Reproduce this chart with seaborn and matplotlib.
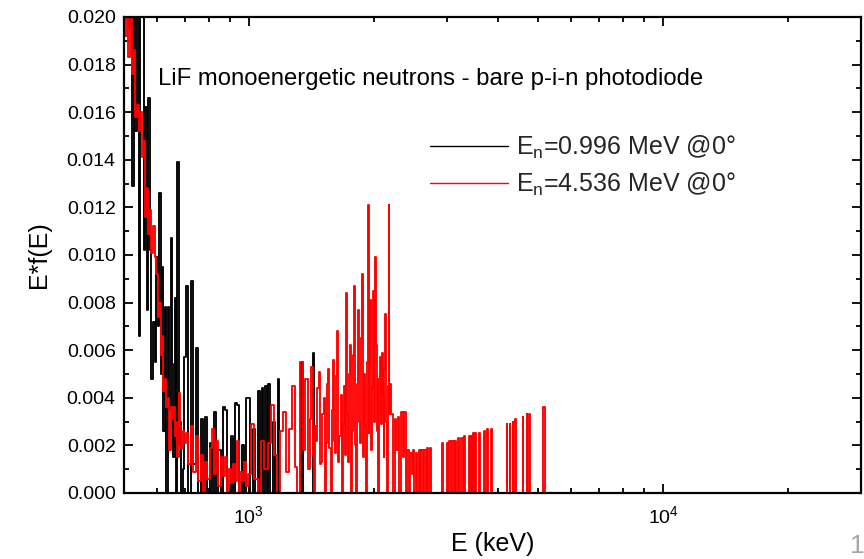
import matplotlib
matplotlib.use("Agg")
import matplotlib.pyplot as plt
import pandas as pd
import seaborn as sns
from matplotlib.ticker import LogLocator, NullFormatter, AutoMinorLocator

# ---------------- data (E in keV, E*f(E)) ----------------
label_black = r"E$_\mathregular{n}$=0.996 MeV @0°"
label_red = r"E$_\mathregular{n}$=4.536 MeV @0°"
annotation = "LiF monoenergetic neutrons - bare p-i-n photodiode"

black_E_a = [500, 505, 510, 515, 520, 525, 530, 535, 540, 545, 550, 555, 560, 565, 570, 575, 580, 585, 590, 595,
             600, 605, 610, 615, 620, 625, 630, 635, 640, 645, 650, 655, 660, 665, 670, 675, 680, 685, 690, 695]
black_y_a = [0.0240, 0.0205, 0.0230, 0.0195, 0.0250, 0.0129, 0.0230, 0.0152, 0.0240, 0.0066,
             0.0215, 0.0250, 0.0102, 0.0162, 0.0077, 0.0166, 0.0102, 0.0048, 0.0072, 0.0055,
             0.0099, 0.0070, 0.0126, 0.0050, 0.0095, 0.0026, 0.0078, 0.0000, 0.0078, 0.0035,
             0.0107, 0.0054, 0.0015, 0.0082, 0.0000, 0.0139, 0.0020, 0.0030, 0.0000, 0.0010]
black_E_b = [700, 710, 720, 730, 740, 750, 760, 770, 780, 790, 800, 810, 820, 830, 840, 850, 860, 870, 880, 890,
             900, 910, 920, 930, 940, 950, 960, 970, 980, 990, 1000, 1010, 1020, 1030, 1040, 1050, 1060, 1070,
             1080, 1090, 1100, 1110, 1120, 1130, 1140, 1150, 1160, 1170, 1180, 1190]
black_y_b = [0.0057, 0.0087, 0.0000, 0.0089, 0.0012, 0.0061, 0.0000, 0.0031, 0.0000, 0.0032,
             0.0000, 0.0021, 0.0000, 0.0034, 0.0000, 0.0018, 0.0000, 0.0036, 0.0035, 0.0000,
             0.0000, 0.0024, 0.0000, 0.0038, 0.0037, 0.0000, 0.0000, 0.0020, 0.0000, 0.0040,
             0.0040, 0.0000, 0.0000, 0.0027, 0.0000, 0.0000, 0.0043, 0.0000, 0.0044, 0.0000,
             0.0045, 0.0000, 0.0046, 0.0000, 0.0000, 0.0030, 0.0000, 0.0000, 0.0048, 0.0000]
black_E_c = [1330, 1340, 1350, 1360, 1420, 1430, 1440, 30000]
black_y_c = [0.0000, 0.0055, 0.0055, 0.0000, 0.0000, 0.0059, 0.0000, 0.0000]

red_E_a = [500, 505, 510, 515, 520, 525, 530, 535, 540, 545, 550, 555, 560, 565, 570, 575, 580, 585, 590, 595,
           600, 605, 610, 615, 620, 625, 630, 635, 640, 645, 650, 655, 660, 665, 670, 675, 680, 685, 690, 695]
red_y_a = [0.0215, 0.0192, 0.0205, 0.0183, 0.0199, 0.0176, 0.0186, 0.0158, 0.0163, 0.0152,
           0.0160, 0.0141, 0.0148, 0.0116, 0.0128, 0.0109, 0.0119, 0.0101, 0.0112, 0.0099,
           0.0092, 0.0074, 0.0080, 0.0058, 0.0066, 0.0043, 0.0048, 0.0036, 0.0040, 0.0018,
           0.0036, 0.0031, 0.0036, 0.0024, 0.0030, 0.0015, 0.0042, 0.0028, 0.0019, 0.0026]
red_E_b = [700, 710, 720, 730, 740, 750, 760, 770, 780, 790, 800, 810, 820, 830, 840, 850, 860, 870, 880, 890,
           900, 910, 920, 930, 940, 950, 960, 970, 980, 990]
red_y_b = [0.0021, 0.0025, 0.0012, 0.0028, 0.0009, 0.0024, 0.0005, 0.0016, 0.0000, 0.0013,
           0.0006, 0.0019, 0.0027, 0.0008, 0.0022, 0.0003, 0.0015, 0.0007, 0.0015, 0.0000,
           0.0010, 0.0004, 0.0012, 0.0005, 0.0022, 0.0000, 0.0009, 0.0005, 0.0013, 0.0003]
red_E_c = [1000, 1020, 1040, 1060, 1080, 1100, 1120, 1140, 1160, 1180,
           1200, 1220, 1240, 1260, 1280, 1300, 1320, 1340, 1360, 1380]
red_y_c = [0.0008, 0.0029, 0.0006, 0.0000, 0.0022, 0.0010, 0.0021, 0.0037, 0.0016, 0.0000,
           0.0026, 0.0034, 0.0009, 0.0027, 0.0045, 0.0011, 0.0000, 0.0055, 0.0018, 0.0048]
red_E_f = [1400, 1410, 1420, 1430, 1440, 1450, 1460, 1470, 1480, 1490,
           1500, 1510, 1520, 1530, 1540, 1550, 1560, 1570, 1580, 1590,
           1600, 1610, 1620, 1630, 1640, 1650, 1660, 1670, 1680, 1690,
           1700, 1710, 1720, 1730, 1740, 1750, 1760, 1770, 1780, 1790,
           1800, 1810, 1820, 1830, 1840, 1850, 1860, 1870, 1880, 1890,
           1900, 1910, 1920, 1930, 1940, 1950, 1960, 1970, 1980, 1990,
           2000, 2010, 2020, 2030, 2040, 2050, 2060, 2070, 2080, 2090,
           2100, 2110, 2120, 2130, 2140, 2150, 2160, 2170, 2180, 2190,
           2200]
red_y_f = [0.0010, 0.0031, 0.0053, 0.0016, 0.0000, 0.0028, 0.0022, 0.0044, 0.0051, 0.0012,
           0.0013, 0.0033, 0.0040, 0.0000, 0.0021, 0.0046, 0.0052, 0.0019, 0.0000, 0.0035,
           0.0056, 0.0022, 0.0017, 0.0049, 0.0068, 0.0013, 0.0024, 0.0041, 0.0000, 0.0029,
           0.0045, 0.0016, 0.0084, 0.0033, 0.0013, 0.0050, 0.0062, 0.0000, 0.0026, 0.0058,
           0.0087, 0.0020, 0.0000, 0.0046, 0.0077, 0.0030, 0.0021, 0.0065, 0.0092, 0.0015,
           0.0050, 0.0028, 0.0000, 0.0055, 0.0121, 0.0025, 0.0054, 0.0081, 0.0018, 0.0044,
           0.0085, 0.0030, 0.0099, 0.0062, 0.0026, 0.0048, 0.0000, 0.0033, 0.0057, 0.0029,
           0.0059, 0.0041, 0.0015, 0.0052, 0.0075, 0.0030, 0.0000, 0.0045, 0.0121, 0.0033,
           0.0046]
red_E_d = [2220, 2240, 2260, 2280, 2300, 2320, 2340, 2360, 2380, 2400, 2420, 2440, 2460, 2480,
           2500, 2520, 2540, 2560, 2580, 2600, 2620, 2640, 2660, 2680, 2700, 2720, 2740, 2760]
red_y_d = [0.0033, 0.0000, 0.0031, 0.0018, 0.0032, 0.0000, 0.0034, 0.0015, 0.0034, 0.0000,
           0.0018, 0.0000, 0.0017, 0.0008, 0.0018, 0.0000, 0.0017, 0.0000, 0.0018, 0.0000,
           0.0018, 0.0000, 0.0018, 0.0000, 0.0019, 0.0000, 0.0019, 0.0000]
red_E_e = [2920, 2940, 2960, 2990, 3010, 3030, 3040, 3060, 3080, 3090, 3110, 3130, 3140, 3160, 3180,
           3190, 3210, 3230, 3250, 3270, 3290, 3300, 3320, 3340, 3380, 3400, 3420, 3430, 3450, 3470,
           3490, 3510, 3530, 3550, 3590, 3610, 3630, 3690, 3710, 3730, 3750, 3770, 3790, 3840, 3860,
           3880, 4180, 4200, 4220, 4250, 4270, 4290, 4320, 4340, 4360, 4390, 4410, 4430, 4570, 4590,
           4610, 4670, 4690, 4710, 4740, 4760, 4780, 5130, 5150, 5170, 5190, 14200]
red_y_e = [0, 0.0021, 0, 0, 0.0021, 0, 0, 0.0022, 0, 0, 0.0022, 0, 0, 0.0022, 0,
           0, 0.0023, 0, 0, 0.0023, 0, 0, 0.0024, 0, 0, 0.0024, 0, 0, 0.0024, 0,
           0.0025, 0, 0.0025, 0, 0, 0.0025, 0, 0, 0.0026, 0, 0, 0.0027, 0, 0, 0.0027,
           0, 0, 0.0029, 0, 0, 0.0029, 0, 0, 0.0030, 0, 0, 0.0031, 0, 0, 0.0032,
           0, 0, 0.0033, 0, 0, 0.0033, 0, 0, 0.0036, 0.0036, 0, 0]

y_ticks = [0.000, 0.002, 0.004, 0.006, 0.008, 0.010, 0.012, 0.014, 0.016, 0.018, 0.020]
y_tick_labels = ["0.000", "0.002", "0.004", "0.006", "0.008", "0.010",
                 "0.012", "0.014", "0.016", "0.018", "0.020"]
x_limits = [500, 30000]
y_limits = [0.0, 0.020]

# ---------------- build table ----------------
black_E = black_E_a + black_E_b + black_E_c
black_y = black_y_a + black_y_b + black_y_c
red_E = red_E_a + red_E_b + red_E_c + red_E_f + red_E_d + red_E_e
red_y = red_y_a + red_y_b + red_y_c + red_y_f + red_y_d + red_y_e
df = pd.concat([
    pd.DataFrame({"E": black_E, "Ef": black_y, "series": label_black}),
    pd.DataFrame({"E": red_E, "Ef": red_y, "series": label_red}),
], ignore_index=True)

# ---------------- style ----------------
sns.set_theme(style="ticks")
plt.rcParams["font.family"] = ["Liberation Sans", "DejaVu Sans"]
plt.rcParams["mathtext.fontset"] = "custom"
plt.rcParams["mathtext.rm"] = "Liberation Sans"
plt.rcParams["mathtext.it"] = "Liberation Sans:italic"
plt.rcParams["mathtext.bf"] = "Liberation Sans:bold"

fig = plt.figure(figsize=(8.64, 5.59), dpi=100)
fig.patch.set_facecolor("white")
ax = fig.add_axes([0.1435, 0.1181, 0.853, 0.8515])
ax.set_facecolor("white")

sns.lineplot(data=df, x="E", y="Ef", hue="series",
             hue_order=[label_black, label_red],
             palette={label_black: "#000000", label_red: "#ff0000"},
             estimator=None, sort=True, drawstyle="steps-mid",
             linewidth=1.35, ax=ax, legend=False)

ax.set_xscale("log")
ax.set_xlim(*x_limits)
ax.set_ylim(*y_limits)
ax.xaxis.set_major_locator(LogLocator(base=10, numticks=10))
ax.xaxis.set_minor_locator(LogLocator(base=10, subs=[2, 3, 4, 5, 6, 7, 8, 9], numticks=20))
ax.xaxis.set_minor_formatter(NullFormatter())
ax.set_yticks(y_ticks)
ax.set_yticklabels(y_tick_labels)
ax.yaxis.set_minor_locator(AutoMinorLocator(2))

for s in ax.spines.values():
    s.set_linewidth(1.6)
    s.set_color("black")
    s.set_visible(True)
ax.tick_params(which="both", direction="in", top=True, right=True, color="black", width=1.3)
ax.tick_params(which="major", length=6.5, labelsize=14, pad=6, labelcolor="black")
ax.tick_params(axis="x", which="major", pad=9)
ax.tick_params(which="minor", length=3.3)

ax.set_xlabel("E (keV)", fontsize=18, labelpad=3, color="black")
ax.set_ylabel("E*f(E)", fontsize=18, labelpad=11, color="black")

ax.text(0.046, 0.857, annotation, transform=ax.transAxes, fontsize=17.2,
        ha="left", va="baseline", color="black")

handles = [plt.Line2D([], [], color="#000000", lw=1.0),
           plt.Line2D([], [], color="#ff0000", lw=1.0)]
ax.legend(handles, [label_black, label_red], loc="upper left",
          bbox_to_anchor=(430 / 864, 1 - 134 / 559), bbox_transform=fig.transFigure,
          frameon=False, fontsize=18, handlelength=3.1, handletextpad=0.36,
          labelspacing=0.37, borderpad=0, borderaxespad=0)

fig.text(850 / 864, 6 / 559, "1", color="#a6a6a6", fontsize=19, ha="left", va="baseline")

fig.savefig("out.png", dpi=100, facecolor="white")
